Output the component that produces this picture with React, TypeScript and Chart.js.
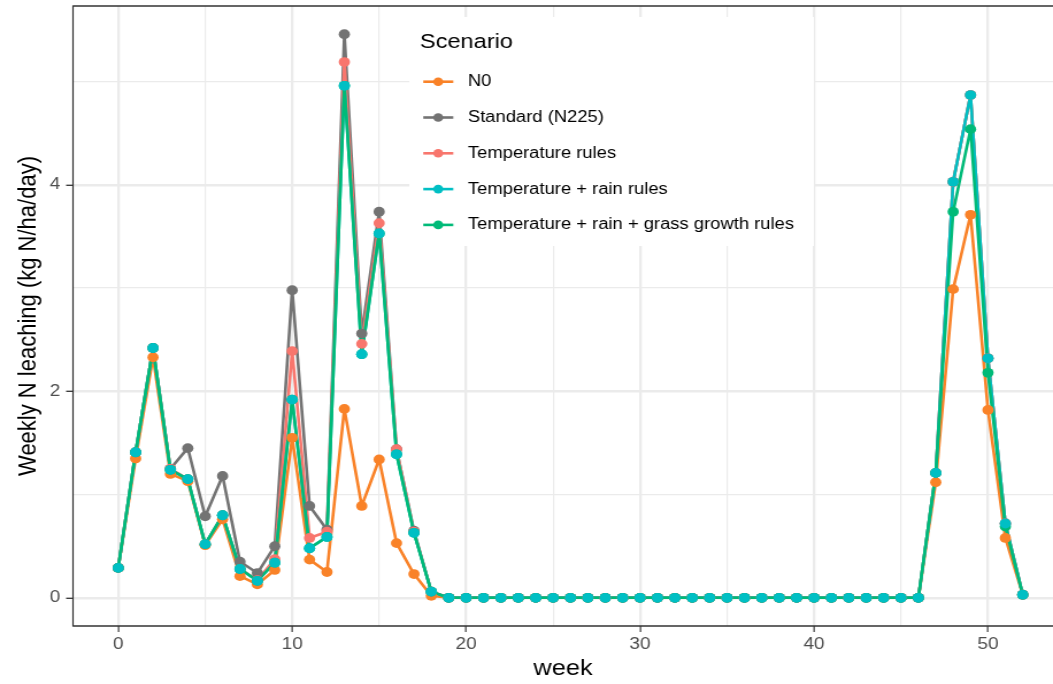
import React, { useEffect, useRef } from "react";
import { Chart, registerables } from "chart.js";

Chart.register(...registerables);

// ---------------- data ----------------
const weeks = [
  0, 1, 2, 3, 4, 5, 6, 7, 8, 9, 10, 11, 12, 13, 14, 15, 16, 17, 18, 19, 20, 21, 22, 23, 24, 25, 26,
  27, 28, 29, 30, 31, 32, 33, 34, 35, 36, 37, 38, 39, 40, 41, 42, 43, 44, 45, 46, 47, 48, 49, 50, 51, 52,
];

const n0 = [
  0.29, 1.35, 2.33, 1.2, 1.13, 0.51, 0.76, 0.21, 0.13, 0.27, 1.55, 0.37, 0.25, 1.83, 0.89, 1.34, 0.53, 0.23, 0.02,
  0, 0, 0, 0, 0, 0, 0, 0, 0, 0, 0, 0, 0, 0, 0, 0, 0, 0, 0, 0, 0, 0, 0, 0, 0, 0, 0, 0,
  1.12, 2.99, 3.71, 1.82, 0.58, 0.03,
];

const standardN225 = [
  0.29, 1.41, 2.42, 1.25, 1.45, 0.79, 1.18, 0.35, 0.24, 0.5, 2.98, 0.89, 0.66, 5.46, 2.56, 3.74, 1.44, 0.65, 0.06,
  0, 0, 0, 0, 0, 0, 0, 0, 0, 0, 0, 0, 0, 0, 0, 0, 0, 0, 0, 0, 0, 0, 0, 0, 0, 0, 0, 0,
  1.21, 4.03, 4.87, 2.32, 0.72, 0.03,
];

const temperatureRules = [
  0.29, 1.41, 2.42, 1.25, 1.15, 0.52, 0.8, 0.28, 0.17, 0.375, 2.39, 0.58, 0.64, 5.19, 2.46, 3.63, 1.44, 0.64, 0.06,
  0, 0, 0, 0, 0, 0, 0, 0, 0, 0, 0, 0, 0, 0, 0, 0, 0, 0, 0, 0, 0, 0, 0, 0, 0, 0, 0, 0,
  1.21, 4.03, 4.87, 2.32, 0.72, 0.03,
];

const temperatureRainRules = [
  0.29, 1.41, 2.42, 1.24, 1.15, 0.52, 0.8, 0.28, 0.165, 0.34, 1.92, 0.48, 0.59, 4.96, 2.36, 3.53, 1.39, 0.63, 0.06,
  0, 0, 0, 0, 0, 0, 0, 0, 0, 0, 0, 0, 0, 0, 0, 0, 0, 0, 0, 0, 0, 0, 0, 0, 0, 0, 0, 0,
  1.21, 4.03, 4.87, 2.32, 0.72, 0.03,
];

const temperatureRainGrassRules = [
  0.29, 1.41, 2.42, 1.24, 1.15, 0.52, 0.8, 0.28, 0.165, 0.34, 1.92, 0.48, 0.59, 4.96, 2.36, 3.53, 1.39, 0.63, 0.06,
  0, 0, 0, 0, 0, 0, 0, 0, 0, 0, 0, 0, 0, 0, 0, 0, 0, 0, 0, 0, 0, 0, 0, 0, 0, 0, 0, 0,
  1.21, 3.74, 4.54, 2.18, 0.69, 0.03,
];

const seriesLabels = [
  "N0",
  "Standard (N225)",
  "Temperature rules",
  "Temperature + rain rules",
  "Temperature + rain + grass growth rules",
];
const seriesValues = [n0, standardN225, temperatureRules, temperatureRainRules, temperatureRainGrassRules];
const seriesColors = ["#F98228", "#737373", "#F8766D", "#00BFC4", "#00BA78"];
// order in which points are painted (last = on top)
const pointPaintOrder = [0, 1, 2, 4, 3];

const xMajorTicks = [0, 10, 20, 30, 40, 50];
const xMinorTicks = [5, 15, 25, 35, 45];
const yMajorTicks = [0, 2, 4];
const yMinorTicks = [1, 3, 5];

const legendTitle = "Scenario";
const xTitle = "week";
const yTitle = "Weekly N leaching (kg N/ha/day)";

// ---------------- styling ----------------
const FONT = "'Liberation Sans', Arial, Helvetica, sans-serif";
const STRETCH = 1053 / 916;

const panelPlugin = {
  id: "ggPanel",
  afterDraw(chart: any) {
    const { ctx, chartArea: a } = chart;
    ctx.save();
    // panel border
    ctx.strokeStyle = "#333333";
    ctx.lineWidth = 1.3;
    ctx.beginPath();
    ctx.moveTo(a.left, a.top);
    ctx.lineTo(a.right + 2, a.top);
    ctx.moveTo(a.left, a.bottom);
    ctx.lineTo(a.right + 2, a.bottom);
    ctx.stroke();
    ctx.lineWidth = 1.15;
    ctx.beginPath();
    ctx.moveTo(a.left, a.top - 0.6);
    ctx.lineTo(a.left, a.bottom + 0.6);
    ctx.stroke();

    // legend (inside panel)
    const bx = 356;
    const by = 17;
    ctx.fillStyle = "#ffffff";
    ctx.fillRect(bx, by, 352, 229);
    ctx.textAlign = "left";
    ctx.textBaseline = "middle";
    ctx.fillStyle = "#000000";
    ctx.font = `20.5px ${FONT}`;
    ctx.fillText(legendTitle, 365.3, 42);
    ctx.font = `16px ${FONT}`;
    seriesLabels.forEach((lab, i) => {
      const y = 81.7 + i * 35.8;
      ctx.strokeStyle = seriesColors[i];
      ctx.lineWidth = 2.6;
      ctx.lineCap = "butt";
      ctx.beginPath();
      ctx.moveTo(368.2, y);
      ctx.lineTo(394.3, y);
      ctx.stroke();
      ctx.fillStyle = seriesColors[i];
      ctx.beginPath();
      ctx.arc(381.2, y, 4.3, 0, Math.PI * 2);
      ctx.fill();
      ctx.fillStyle = "#000000";
      ctx.fillText(lab, 407, y);
    });
    ctx.restore();
  },
};

function buildDatasets() {
  const pts = (vals: number[]) => weeks.map((w, i) => ({ x: w, y: vals[i] }));
  const lineSets = seriesValues.map((vals, i) => ({
    label: seriesLabels[i],
    data: pts(vals),
    borderColor: seriesColors[i],
    backgroundColor: seriesColors[i],
    borderWidth: 2.6,
    borderJoinStyle: "round",
    borderCapStyle: "round",
    pointRadius: 0,
    tension: 0,
    fill: false,
  }));
  const pointSets = pointPaintOrder.map((i) => ({
    label: seriesLabels[i] + " points",
    data: pts(seriesValues[i]),
    showLine: false,
    borderColor: seriesColors[i],
    backgroundColor: seriesColors[i],
    pointBackgroundColor: seriesColors[i],
    pointBorderWidth: 0,
    pointRadius: 4.9,
    fill: false,
  }));
  const all = [...lineSets, ...pointSets];
  // Chart.js paints lower `order` on top
  return all.map((d, k) => ({ ...d, order: all.length - k }));
}

export default function App() {
  const ref = useRef<HTMLCanvasElement>(null);

  useEffect(() => {
    if (!ref.current) return;
    const chart = new Chart(ref.current, {
      type: "line",
      data: { datasets: buildDatasets() as any },
      plugins: [panelPlugin],
      options: {
        animation: false,
        responsive: true,
        maintainAspectRatio: false,
        events: [],
        layout: { autoPadding: false, padding: { top: 6, right: 0, bottom: 0, left: 0 } },
        plugins: {
          legend: { display: false },
          tooltip: { enabled: false },
          title: { display: false },
        },
        font: { family: FONT },
        scales: {
          x: {
            type: "linear",
            min: -2.6,
            max: 53.74,
            afterBuildTicks: (scale: any) => {
              scale.ticks = [...xMajorTicks, ...xMinorTicks].sort((a, b) => a - b).map((v) => ({ value: v }));
            },
            afterFit: (scale: any) => {
              scale.height = 58;
              scale.paddingLeft = 0;
              scale.paddingRight = 0;
            },
            border: { display: false },
            grid: {
              color: "#EBEBEB",
              lineWidth: (c: any) => (xMajorTicks.includes(c.tick?.value) ? 2.3 : 1.2),
              tickLength: 6,
              tickColor: (c: any) => (xMajorTicks.includes(c.tick?.value) ? "#333333" : "rgba(0,0,0,0)"),
              tickWidth: (c: any) => (xMajorTicks.includes(c.tick?.value) ? 1.15 : 0),
            },
            ticks: {
              autoSkip: false,
              maxRotation: 0,
              padding: 3,
              color: "#4D4D4D",
              font: { family: FONT, size: 16.5 },
              callback: (v: any) => (xMajorTicks.includes(Number(v)) ? String(v) : ""),
            },
            title: {
              display: true,
              text: xTitle,
              color: "#000000",
              font: { family: FONT, size: 22 },
              padding: { top: 0, bottom: 2 },
            },
          },
          y: {
            type: "linear",
            min: -0.273,
            max: 5.733,
            afterBuildTicks: (scale: any) => {
              scale.ticks = [...yMajorTicks, ...yMinorTicks].sort((a, b) => a - b).map((v) => ({ value: v }));
            },
            afterFit: (scale: any) => {
              scale.width = 63.5;
              scale.paddingTop = 0;
              scale.paddingBottom = 0;
            },
            border: { display: false },
            grid: {
              color: "#EBEBEB",
              lineWidth: (c: any) => (yMajorTicks.includes(c.tick?.value) ? 2.6 : 1.3),
              tickLength: 6,
              tickColor: (c: any) => (yMajorTicks.includes(c.tick?.value) ? "#333333" : "rgba(0,0,0,0)"),
              tickWidth: (c: any) => (yMajorTicks.includes(c.tick?.value) ? 1.3 : 0),
            },
            ticks: {
              autoSkip: false,
              padding: 5,
              color: "#4D4D4D",
              font: { family: FONT, size: 16.5 },
              callback: (v: any) => (yMajorTicks.includes(Number(v)) ? String(v) : ""),
            },
            title: {
              display: true,
              text: yTitle,
              color: "#000000",
              font: { family: FONT, size: 22 },
              padding: { top: 12, bottom: 0 },
            },
          },
        },
      } as any,
    });
    return () => chart.destroy();
  }, []);

  return (
    <div
      style={{
        position: "fixed",
        left: 0,
        top: 0,
        width: 1053,
        height: 684,
        overflow: "hidden",
        background: "#ffffff",
      }}
    >
      <div
        style={{
          position: "absolute",
          left: 0,
          top: 0,
          width: 916,
          height: 684,
          transform: `scaleX(${STRETCH})`,
          transformOrigin: "0 0",
        }}
      >
        <canvas ref={ref} />
      </div>
    </div>
  );
}
